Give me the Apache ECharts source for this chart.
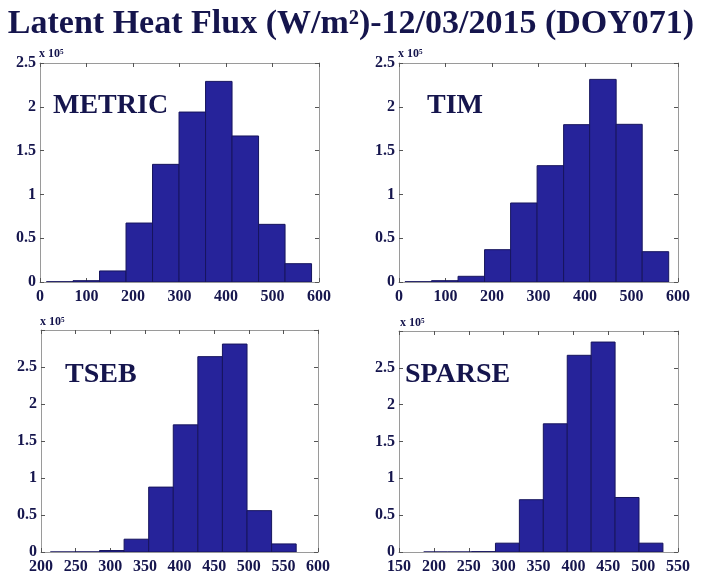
<!DOCTYPE html>
<html><head><meta charset="utf-8">
<script src="https://cdn.jsdelivr.net/npm/echarts@6/dist/echarts.min.js"></script>
<style>html,body{margin:0;padding:0;background:#fff}#c{width:702px;height:575px}</style>
</head><body><div id="c"></div>
<script>
const titleText = 'Latent Heat Flux (W/m²)-12/03/2015 (DOY071)';
const panelNames = ['METRIC', 'TIM', 'TSEB', 'SPARSE'];
const scaleLabel = 'x 10⁵';

const metricEdges = [14, 71, 128, 185, 242, 299, 356, 413, 470, 527, 584];
const metricCounts = [300, 1500, 12600, 67300, 134300, 194000, 229000, 166700, 65800, 20900];
const timEdges = [13, 70, 127, 184, 240, 297, 354, 410, 467, 523, 580];
const timCounts = [300, 1500, 6500, 36900, 90200, 132800, 179600, 231300, 180000, 34600];
const tsebEdges = [213.5, 249, 284.5, 320, 355.5, 391, 426.5, 462, 497.5, 533, 568.5];
const tsebCounts = [0, 100, 2000, 17300, 87700, 171800, 264000, 281000, 55900, 10900];
const sparseEdges = [185.4, 219.7, 254, 288.3, 322.6, 356.9, 391.2, 425.5, 459.8, 494.1, 528.4];
const sparseCounts = [0, 0, 500, 12000, 71000, 174000, 267000, 285000, 74000, 12000];

const xRanges = [[0, 600, 100], [0, 600, 100], [200, 600, 50], [150, 550, 50]];
const yRanges = [[0, 250000, 50000], [0, 250000, 50000], [0, 300000, 50000], [0, 300000, 50000]];

const edgesList = [metricEdges, timEdges, tsebEdges, sparseEdges];
const countsList = [metricCounts, timCounts, tsebCounts, sparseCounts];

const NAVY = '#15154d';
const SERIF = "'Liberation Serif', 'DejaVu Serif', serif";
const AXIS_GRAY = '#9a9a9a';

const grids = [
  {left: 40, top: 63, width: 279, height: 219},
  {left: 399, top: 63, width: 279, height: 219},
  {left: 41, top: 330, width: 277, height: 222},
  {left: 399, top: 331, width: 279, height: 221}
];

const xAxes = [], yAxes = [], series = [];
grids.forEach((g, i) => {
  const [xmin, xmax, xint] = xRanges[i];
  const [ymin, ymax, yint] = yRanges[i];
  const common = {gridIndex: i, splitLine: {show: false},
    axisLine: {show: true, onZero: false, lineStyle: {color: AXIS_GRAY, width: 1}},
    axisTick: {show: true, inside: true, length: 4, lineStyle: {color: '#555'}}};
  xAxes.push(Object.assign({}, common, {type: 'value', position: 'bottom', min: xmin, max: xmax, interval: xint,
    axisLabel: {show: true, margin: 7, color: NAVY, fontFamily: SERIF, fontWeight: 'bold', fontSize: 16}}));
  xAxes.push(Object.assign({}, common, {type: 'value', position: 'top', min: xmin, max: xmax, interval: xint,
    axisLabel: {show: false}}));
  yAxes.push(Object.assign({}, common, {type: 'value', position: 'left', min: ymin, max: ymax, interval: yint,
    axisLabel: {show: true, margin: 4, color: NAVY, fontFamily: SERIF, fontWeight: 'bold', fontSize: 16,
      formatter: v => (v >= 300000 ? '' : String(v / 1e5))}}));
  yAxes.push(Object.assign({}, common, {type: 'value', position: 'right', min: ymin, max: ymax, interval: yint,
    axisLabel: {show: false}}));
  const edges = edgesList[i], counts = countsList[i];
  const data = counts.map((c, k) => [edges[k], edges[k + 1], c]);
  series.push({
    type: 'custom', xAxisIndex: i * 2, yAxisIndex: i * 2, clip: true,
    encode: {x: [0, 1], y: 2},
    data: data,
    renderItem: function (params, api) {
      const x0 = api.value(0), x1 = api.value(1), c = api.value(2);
      const p0 = api.coord([x0, 0]), p1 = api.coord([x1, c]);
      return {type: 'rect',
        shape: {x: p0[0], y: p1[1], width: p1[0] - p0[0], height: p0[1] - p1[1]},
        style: {fill: '#26239a', stroke: '#17155e', lineWidth: 1}};
    }
  });
});

const labelPos = [[53, 118], [427, 118], [65, 387], [405, 387]];
const scalePos = [[39, 59], [398, 59], [40, 327], [400, 328]];
const graphic = [];
panelNames.forEach((name, i) => {
  graphic.push({type: 'text', left: labelPos[i][0], top: labelPos[i][1] - 26, z: 100,
    style: {text: name, fill: NAVY, font: 'bold 28px ' + SERIF}});
  graphic.push({type: 'text', left: scalePos[i][0], top: scalePos[i][1] - 11, z: 100,
    style: {text: scaleLabel, fill: NAVY, font: 'bold 12px ' + SERIF}});
});

const chart = echarts.init(document.getElementById('c'), null, {renderer: 'canvas'});
chart.setOption({
  animation: false,
  backgroundColor: '#fff',
  title: {text: titleText, left: 'center', top: 2,
    textStyle: {color: NAVY, fontFamily: SERIF, fontWeight: 'bold', fontSize: 34}},
  grid: grids.map(g => Object.assign({containLabel: false, show: false}, g)),
  xAxis: xAxes,
  yAxis: yAxes,
  series: series,
  graphic: graphic
});
</script></body></html>
